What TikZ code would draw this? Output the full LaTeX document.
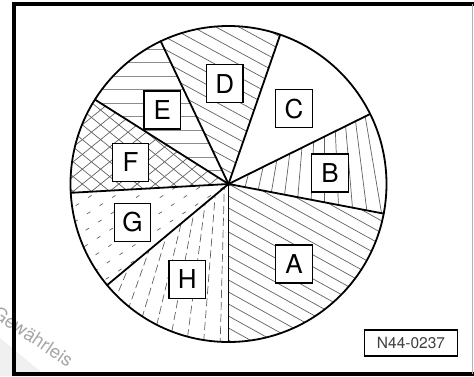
\documentclass[tikz,border=0pt]{standalone}
\usepackage{fontspec}
\setmainfont{TeX Gyre Heros}
\begin{document}
\begin{tikzpicture}[x=1pt,y=1pt,
  rad/.style={line width=1.8pt, line cap=round},
  hatch/.style={line width=0.7pt, draw=black!62},
  lbl/.style={draw=black, line width=1.3pt, fill=white, minimum width=36.5pt,
    minimum height=38pt, inner sep=0pt, font=\fontsize{26}{26}\selectfont},
  tag/.style={draw=black, line width=1.6pt, fill=white, minimum width=93pt,
    minimum height=26pt, inner sep=0pt, text=black!75, font=\fontsize{15.5}{15.5}\selectfont}
]
\useasboundingbox (0,0) rectangle (474,376);
\def\R{158pt}
\coordinate (C) at (228.5,192);
\coordinate (P) at (228.5,350);
\coordinate (Q) at (324.7,499);

% watermark
\begin{scope}
\clip (0,0) rectangle (474,376);
\fill[black!6] (0,38) -- (46,0) -- (0,0) -- cycle;
\node[text=black!35, rotate=-34, anchor=base west, inner sep=0pt,
  font=\fontsize{18.5}{18.5}\selectfont] (wm) at (-9,60) {Gewährleis};
\end{scope}

% A: diagonal lines
\begin{scope}
\clip (C) -- ++(270:\R) arc[start angle=270,end angle=349.2,radius=\R] -- cycle;
\foreach \k in {-17,...,17}
  \draw[hatch] ([shift={(61:{\k*10.5pt})}]C) ++(-29:-175pt) -- ++(-29:350pt);
\end{scope}
% B: fan of near-vertical lines
\begin{scope}
\clip (C) -- ++(-10.8:\R) arc[start angle=-10.8,end angle=26.3,radius=\R] -- cycle;
\foreach \k in {-9,...,12}
  \draw[hatch] (Q) -- ++({270+2.4*\k}:420pt);
\end{scope}
% D: diagonal lines
\begin{scope}
\clip (C) -- ++(70.9:\R) arc[start angle=70.9,end angle=115.4,radius=\R] -- cycle;
\foreach \k in {-17,...,17}
  \draw[hatch] ([shift={(61.5:{\k*11pt})}]C) ++(-28.5:-175pt) -- ++(-28.5:350pt);
\end{scope}
% E: horizontal lines
\begin{scope}
\clip (C) -- ++(115.4:\R) arc[start angle=115.4,end angle=147.7,radius=\R] -- cycle;
\foreach \k in {-1,...,12}
  \draw[hatch, draw=black!45] ([yshift={\k*13.5pt}]C) ++(-175pt,0) -- ++(350pt,0);
\end{scope}
% F: crosshatch
\begin{scope}
\clip (C) -- ++(147.7:\R) arc[start angle=147.7,end angle=183.2,radius=\R] -- cycle;
\foreach \k in {-17,...,17}{
  \draw[hatch] ([shift={(129:{\k*11.5pt})}]C) ++(39:-175pt) -- ++(39:350pt);
  \draw[hatch] ([shift={(51:{\k*11.5pt})}]C) ++(-39:-175pt) -- ++(-39:350pt);
}
\end{scope}
% G: short dashes
\begin{scope}
\clip (C) -- ++(183.2:\R) arc[start angle=183.2,end angle=219.8,radius=\R] -- cycle;
\foreach \k in {-17,...,17}
  \draw[hatch, dash pattern=on 4pt off 11pt, dash phase={\k*5pt}]
    ([shift={(123:{\k*13pt})}]C) ++(33:-175pt) -- ++(33:350pt);
\end{scope}
% H: fan of dashed lines
\begin{scope}
\clip (C) -- ++(219.8:\R) arc[start angle=219.8,end angle=270,radius=\R] -- cycle;
\foreach \k in {0,...,16}
  \draw[hatch, dash pattern=on 8pt off 4pt, dash phase={\k*3pt}] (P) -- ++({268.5-3*\k}:340pt);
\end{scope}

% radial lines
\foreach \a in {70.9,115.4,147.7,183.2,219.8,270,349.2,26.3}
  \draw[rad] (C) -- ++(\a:\R);
\draw[line width=1.8pt] (C) circle[radius=\R];
\fill (C) circle[radius=2pt];

% labels
\node[lbl] (D) at (224.7,292.2) {D};
\node[lbl] (Cl) at (294,267.3) {C};
\node[lbl] (E) at (162.3,266) {E};
\node[lbl] (B) at (330,203) {B};
\node[lbl] (F) at (130.5,213.5) {F};
\node[lbl] (G) at (132.5,153.5) {G};
\node[lbl] (H) at (187.3,96.8) {H};
\node[lbl] (A) at (294,112) {A};
\node[tag] (N) at (411,33) {N44-0237};

% frame
\draw[line width=4pt] (14,0) -- (14,374);
\draw[line width=3.8pt] (12,372.2) -- (474,372.2);
\draw[line width=4.4pt] (12,2.2) -- (474,2.2);
\draw[black!30, line width=1pt] (472.7,2) -- (472.7,372);
\end{tikzpicture}
\end{document}
